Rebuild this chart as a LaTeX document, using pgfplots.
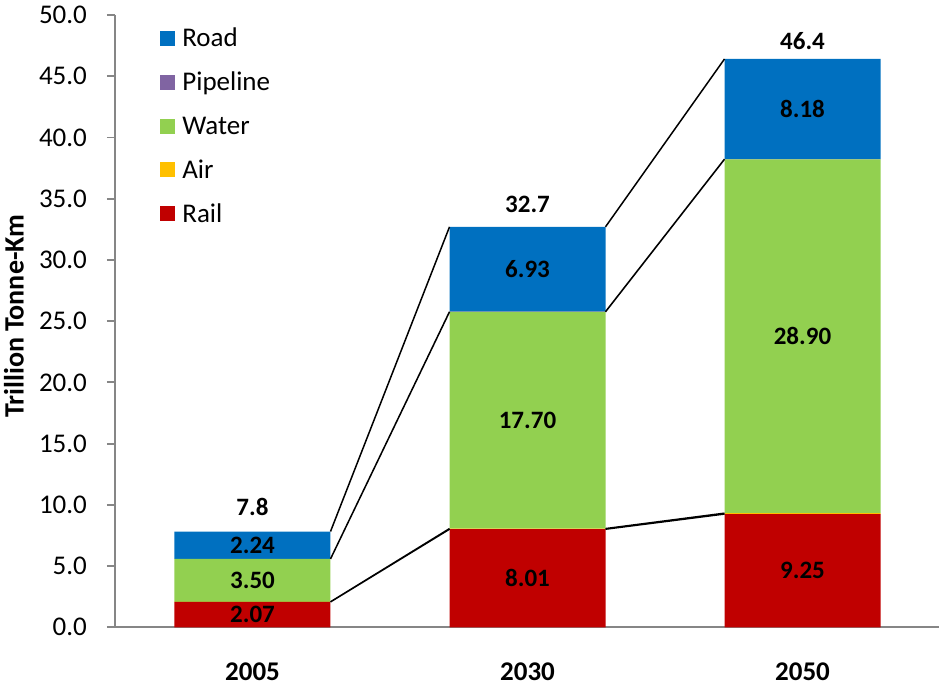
\documentclass[border=0pt]{standalone}
\usepackage{pgfplots}
\pgfplotsset{compat=1.18}
\usepackage{pgfplotstable}
\usepackage{fontspec}
\setmainfont{Carlito}
\definecolor{road}{HTML}{0070C0}
\definecolor{pipe}{HTML}{8064A2}
\definecolor{water}{HTML}{92D050}
\definecolor{air}{HTML}{FFC000}
\definecolor{rail}{HTML}{C00000}
\definecolor{axgray}{HTML}{868686}
\newcommand\tickfont{\fontsize{13.5}{16}\selectfont}
\newcommand\labfont{\fontsize{12.5}{15}\selectfont\bfseries}

\pgfplotstableread{
x Rail Air Water Pipeline Road
0 2.07 0.01 3.50 0.00 2.24
1 8.01 0.05 17.70 0.01 6.93
2 9.25 0.07 28.90 0.01 8.18
}\freight

\pgfplotstableread{
x y lab
0 1.035 2.07
0 3.83 3.50
0 6.70 2.24
1 4.005 8.01
1 16.91 17.70
1 29.235 6.93
2 4.625 9.25
2 23.77 28.90
2 42.32 8.18
0 9.82 7.8
1 34.54 32.7
2 47.89 46.4
}\seglabels

\pgfplotstableread{
x y
0.2836 2.07
0.7164 8.01
nan nan
1.2836 8.01
1.7164 9.25
nan nan
0.2836 2.08
0.7164 8.06
nan nan
1.2836 8.06
1.7164 9.32
nan nan
0.2836 5.58
0.7164 25.76
nan nan
1.2836 25.76
1.7164 38.22
nan nan
0.2836 5.58
0.7164 25.77
nan nan
1.2836 25.77
1.7164 38.23
nan nan
0.2836 7.82
0.7164 32.70
nan nan
1.2836 32.70
1.7164 46.41
}\serieslines

\begin{document}
\begin{tikzpicture}
\begin{axis}[
  name=main,
  scale only axis, width=412.5pt, height=306.15pt,
  ybar stacked, bar width=78pt,
  xmin=-0.5, xmax=2.5, ymin=0, ymax=50,
  axis lines*=left,
  axis line style={axgray, line width=0.9pt},
  xtick={0,1,2}, xticklabels={2005,2030,2050},
  xtick style={draw=none},
  ytick={0,5,...,50},
  tick align=outside, major tick length=4pt,
  ytick style={axgray, line width=0.9pt},
  /pgf/number format/assume math mode=true,
  yticklabel style={font=\tickfont, inner sep=0pt, anchor=east, xshift=-9.85pt,
     /pgf/number format/.cd, fixed, fixed zerofill, precision=1},
  xticklabel style={font=\tickfont\bfseries, inner sep=0pt, anchor=north, yshift=-13.5pt},
  ylabel={Trillion Tonne-Km},
  ylabel style={font=\fontsize{14}{16}\selectfont\bfseries, at={(axis description cs:-0.1224,0.508)}, anchor=center},
  reverse legend,
  legend cell align=left,
  legend image code/.code={\fill[#1] (0pt,-2.9pt) rectangle (7.5pt,4.6pt);},
  legend style={draw=none, fill=none, at={(rel axis cs:0.0545,0.982)}, anchor=north west,
     inner sep=0pt, row sep=8.45pt, font=\tickfont,
     nodes={inner sep=0pt, text height=10pt, text depth=3.5pt},
     /tikz/every odd column/.append style={column sep=3.5pt}},
]
\addplot[fill=rail, draw=none] table[x=x, y=Rail]{\freight};
\addlegendentry{Rail}
\addplot[fill=air, draw=none] table[x=x, y=Air]{\freight};
\addlegendentry{Air}
\addplot[fill=water, draw=none] table[x=x, y=Water]{\freight};
\addlegendentry{Water}
\addplot[fill=pipe, draw=none] table[x=x, y=Pipeline]{\freight};
\addlegendentry{Pipeline}
\addplot[fill=road, draw=none] table[x=x, y=Road]{\freight};
\addlegendentry{Road}
\end{axis}
\begin{axis}[
  scale only axis, width=412.5pt, height=306.15pt,
  xmin=-0.5, xmax=2.5, ymin=0, ymax=50,
  hide axis, clip=false, unbounded coords=jump,
]
\addplot[black, line width=0.75pt, mark=none] table[x=x, y=y]{\serieslines};
\addplot[draw=none, mark=none, nodes near coords, point meta=explicit symbolic,
  every node near coord/.append style={anchor=center, font=\labfont, text=black, inner sep=0pt}]
  table[x=x, y=y, meta=lab]{\seglabels};
\end{axis}
\pgfresetboundingbox
\path ([shift={(-57.5pt,-28.85pt)}]main.south west) rectangle ([shift={(412pt,313.65pt)}]main.south west);
\end{tikzpicture}
\end{document}
